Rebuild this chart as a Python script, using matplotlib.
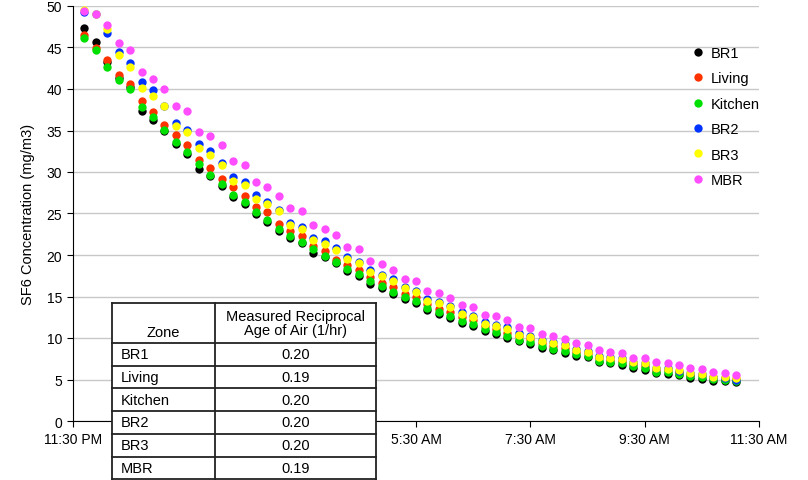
import numpy as np
import pandas as pd
import matplotlib
matplotlib.use('Agg')
import matplotlib.pyplot as plt
import matplotlib.dates as mdates

plt.rcParams['font.family'] = ['Liberation Sans', 'DejaVu Sans']

# sampling: every 12 minutes starting 11:42 PM
times = pd.date_range('2000-01-01 23:42', periods=58, freq='12min')

br1 = [47.3, 45.7, 43.3, 41.3, 40.2, 37.3, 36.3, 34.9, 33.4, 32.2,
       30.4, 29.5, 28.3, 27.0, 26.2, 24.9, 24.0, 22.9, 22.0, 21.4,
       20.2, 19.7, 19.0, 18.1, 17.5, 16.5, 16.0, 15.3, 14.7, 14.2,
       13.4, 12.9, 12.4, 11.8, 11.5, 10.8, 10.5, 10.0, 9.6, 9.3,
       8.8, 8.5, 8.2, 7.85, 7.7, 7.05, 6.95, 6.8, 6.4, 6.2,
       5.75, 5.7, 5.5, 5.2, 5.1, 4.85, 4.8, 4.7]
living = [46.5, 44.9, 43.5, 41.7, 40.6, 38.55, 37.2, 35.7, 34.4, 33.3,
          31.4, 30.5, 29.16, 28.16, 27.07, 25.74, 25.14, 23.7, 22.9, 22.3,
          21.1, 20.5, 19.4, 18.75, 18.2, 17.3, 16.6, 16.1, 15.3, 14.9,
          14.1, 13.5, 13.1, 12.5, 12.15, 11.5, 11.1, 10.6, 10.2, 9.85,
          9.35, 9.0, 8.75, 8.35, 8.15, 7.55, 7.4, 7.25, 6.85, 6.65,
          6.2, 6.15, 5.9, 5.6, 5.5, 5.25, 5.2, 5.05]
kitchen = [46.1, 44.7, 42.7, 41.1, 40.0, 37.8, 36.6, 35.1, 33.6, 32.45,
           30.96, 29.68, 28.55, 27.27, 26.42, 25.14, 24.22, 23.1, 22.25, 21.62,
           20.68, 19.92, 19.2, 18.31, 17.71, 16.9, 16.23, 15.58, 14.9, 14.42,
           13.61, 13.1, 12.61, 12.08, 11.69, 11.08, 10.69, 10.24, 9.8, 9.48,
           9.0, 8.67, 8.47, 8.07, 7.87, 7.27, 7.15, 6.99, 6.59, 6.39,
           5.94, 5.94, 5.66, 5.38, 5.26, 5.06, 4.98, 4.86]
br2 = [49.3, 49.0, 46.7, 44.4, 43.1, 40.8, 39.9, 38.0, 35.9, 35.06,
       33.37, 32.5, 31.1, 29.4, 28.76, 27.23, 26.42, 25.4, 23.8, 23.4,
       22.0, 21.65, 20.9, 19.8, 19.2, 18.2, 17.6, 17.1, 16.2, 15.7,
       14.7, 14.35, 13.9, 13.1, 12.7, 11.9, 11.6, 11.3, 10.55, 10.3,
       9.75, 9.55, 9.3, 8.7, 8.45, 7.8, 7.7, 7.55, 7.15, 7.0,
       6.4, 6.35, 6.05, 5.75, 5.7, 5.3, 5.2, 4.95]
br3 = [49.5, 49.0, 47.2, 44.1, 42.7, 40.1, 39.2, 37.9, 35.6, 34.8,
       32.9, 32.0, 30.85, 28.96, 28.4, 26.75, 26.1, 25.25, 23.6, 23.1,
       21.77, 21.3, 20.64, 19.52, 19.0, 17.95, 17.43, 16.9, 16.0, 15.5,
       14.42, 14.18, 13.7, 12.89, 12.49, 11.69, 11.48, 11.1, 10.4, 10.16,
       9.6, 9.4, 9.16, 8.55, 8.35, 7.67, 7.6, 7.47, 7.07, 6.95,
       6.35, 6.3, 6.14, 5.74, 5.66, 5.34, 5.26, 5.14]
mbr = [49.4, 49.0, 47.7, 45.5, 44.7, 42.1, 41.2, 40.0, 38.0, 37.3,
       34.8, 34.3, 33.2, 31.35, 30.8, 28.8, 28.2, 27.1, 25.7, 25.25,
       23.6, 23.1, 22.35, 21.0, 20.7, 19.25, 18.95, 18.2, 17.15, 16.9,
       15.7, 15.4, 14.8, 14.0, 13.75, 12.8, 12.6, 12.15, 11.35, 11.15,
       10.5, 10.3, 9.9, 9.35, 9.2, 8.5, 8.35, 8.15, 7.65, 7.6,
       7.05, 6.95, 6.75, 6.35, 6.25, 5.9, 5.75, 5.6]

zones = ['BR1', 'Living', 'Kitchen', 'BR2', 'BR3', 'MBR']
rates = ['0.20', '0.19', '0.20', '0.20', '0.20', '0.19']
series = [br1, living, kitchen, br2, br3, mbr]
colors = ['#000000', '#FF3300', '#00E000', '#0033FF', '#FFFF00', '#FF4DFF']

fig = plt.figure(figsize=(8.08, 4.81), dpi=100)
ax = fig.add_axes([73 / 808, 1 - 422 / 481, (759 - 73) / 808, (422 - 7) / 481])

for name, vals, c in zip(zones, series, colors):
    ax.plot(times, vals, 'o', color=c, ms=6.0, mew=0, label=name, clip_on=False)

t0 = pd.Timestamp('2000-01-01 23:30')
ax.set_xlim(t0, t0 + pd.Timedelta(hours=12))
ax.set_ylim(0, 50)
ax.set_yticks(np.arange(0, 51, 5))
ax.set_xticks([t0 + pd.Timedelta(hours=h) for h in range(0, 13, 2)])
ax.xaxis.set_major_formatter(mdates.DateFormatter('%-I:%M %p'))
ax.grid(axis='y', color='#c8c8c8', lw=1)
ax.set_axisbelow(True)
for s in ['top', 'right']:
    ax.spines[s].set_visible(False)
ax.spines['left'].set_color('black')
ax.spines['bottom'].set_color('black')
ax.tick_params(axis='both', labelsize=10, length=4, direction='out', pad=4)
ax.set_ylabel('SF6 Concentration (mg/m3)', fontsize=10.5, labelpad=8)

# tick labels that sit behind the table are not shown
for lab in ax.get_xticklabels()[1:3]:
    lab.set_visible(False)

ax.legend(loc='upper left', bbox_to_anchor=(693 / 808, 1 - 47 / 481),
          bbox_transform=fig.transFigure, frameon=False, fontsize=10.5,
          handlelength=0.7, handletextpad=0.55, labelspacing=0.78,
          borderaxespad=0, borderpad=0)

# table with measured reciprocal age of air
tx0, tx1, ty0 = 112, 376, 304
tax = fig.add_axes([tx0 / 808, 0, (tx1 - tx0) / 808, (481 - ty0) / 481])
tax.set_xlim(0, tx1 - tx0)
tax.set_ylim(481 - ty0, 0)
tax.axis('off')
tax.add_patch(plt.Rectangle((0, 0), tx1 - tx0, 481 - ty0, color='white', zorder=0))
head_h, row_h, col_w = 40, 22.7, 103
lc, lw = '#222222', 1.3
ys = [0, head_h] + [head_h + row_h * (k + 1) for k in range(len(zones))]
for y in ys:
    tax.plot([0, tx1 - tx0], [y, y], color=lc, lw=lw, clip_on=False)
tax.plot([0, 0], [0, ys[-1]], color=lc, lw=lw, clip_on=False)
tax.plot([col_w, col_w], [0, ys[-1]], color=lc, lw=lw, clip_on=False)
tax.plot([tx1 - tx0, tx1 - tx0], [0, ys[-1]], color=lc, lw=lw, clip_on=False)
mid2 = (col_w + tx1 - tx0) / 2
tax.text(col_w / 2, head_h - 4, 'Zone', ha='center', va='bottom', fontsize=10.5)
tax.text(mid2, head_h / 2, 'Measured Reciprocal\nAge of Air (1/hr)', ha='center',
         va='center', fontsize=10.5, linespacing=1.05)
for k, (z, r) in enumerate(zip(zones, rates)):
    yc = head_h + row_h * (k + 0.5)
    tax.text(9, yc, z, ha='left', va='center', fontsize=10.5)
    tax.text(mid2, yc, r, ha='center', va='center', fontsize=10.5)

fig.savefig('out.png', dpi=100, facecolor='white')
